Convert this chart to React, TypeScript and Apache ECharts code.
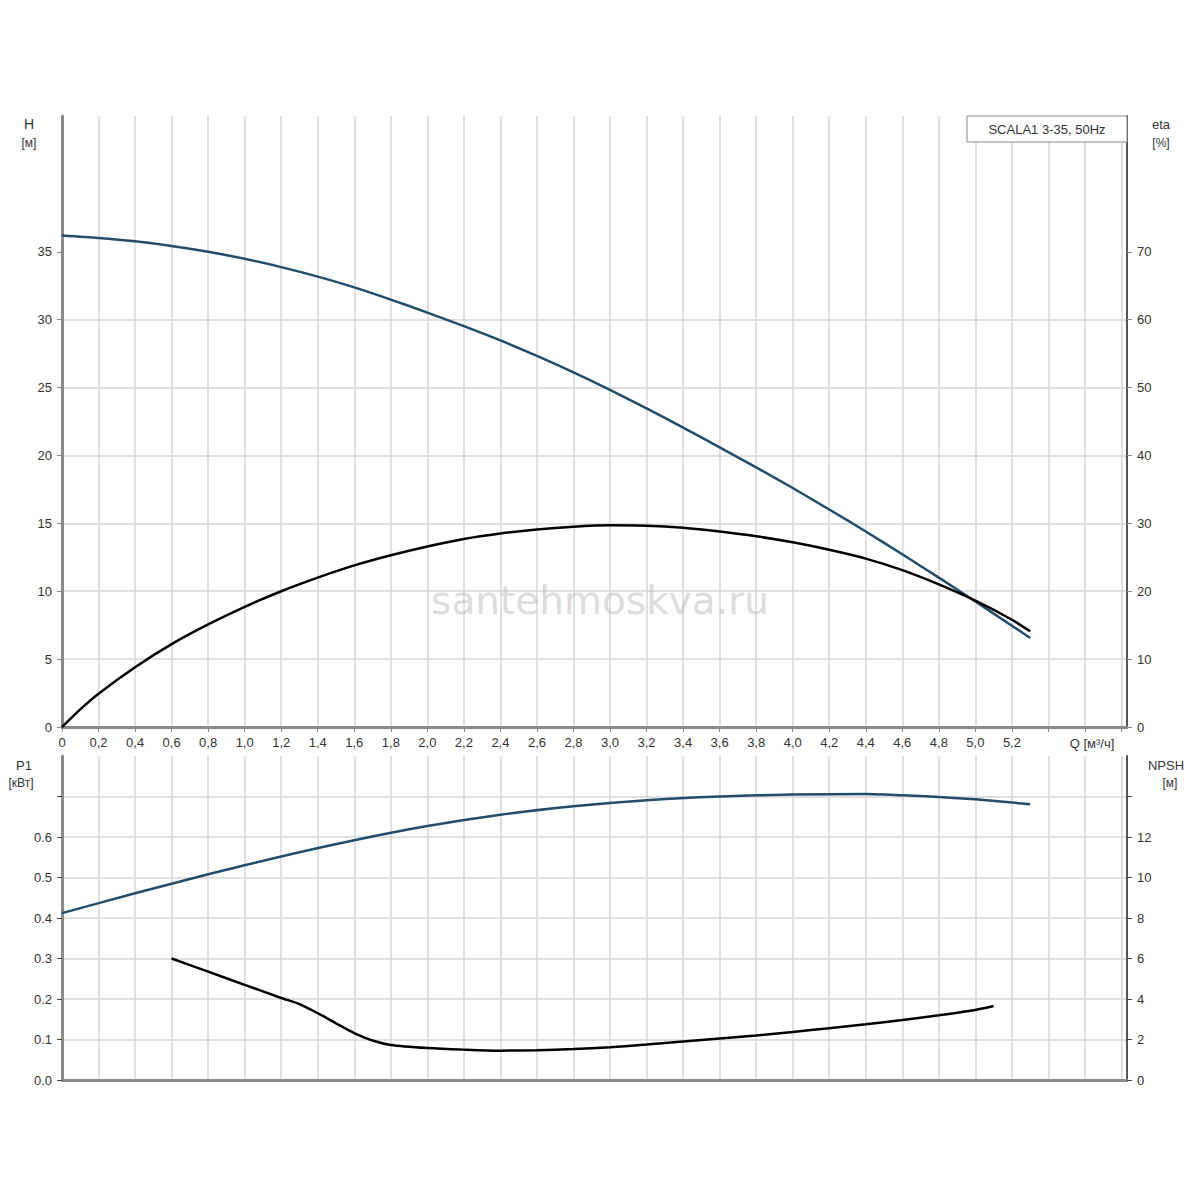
import React, { useEffect, useRef } from "react";
import * as echarts from "echarts";

// Flow Q [m³/h]
const qTop = [0, 0.2, 0.4, 0.6, 0.8, 1.0, 1.2, 1.4, 1.6, 1.8, 2.0, 2.2, 2.4, 2.6, 2.8, 3.0, 3.2, 3.4, 3.6, 3.8, 4.0, 4.2, 4.4, 4.6, 4.8, 5.0, 5.2, 5.3];
// Head H [m]
const headH = [36.2, 36.02, 35.77, 35.43, 35.0, 34.48, 33.87, 33.17, 32.38, 31.48, 30.52, 29.52, 28.47, 27.33, 26.12, 24.83, 23.47, 22.05, 20.6, 19.12, 17.6, 16.02, 14.4, 12.72, 11.0, 9.24, 7.46, 6.56];
// Efficiency eta [%]
const qEta = [0, 0.1, 0.2, 0.4, 0.6, 0.8, 1.0, 1.2, 1.4, 1.6, 1.8, 2.0, 2.2, 2.4, 2.6, 2.8, 3.0, 3.2, 3.4, 3.6, 3.8, 4.0, 4.2, 4.4, 4.6, 4.8, 5.0, 5.2, 5.3];
const etaPct = [0, 2.6, 4.9, 8.8, 12.2, 15.1, 17.7, 20.0, 22.0, 23.8, 25.3, 26.6, 27.7, 28.5, 29.1, 29.5, 29.7, 29.65, 29.35, 28.8, 28.1, 27.2, 26.1, 24.8, 23.1, 21.0, 18.6, 15.8, 14.1];

// Power P1 [kW]
const qP1 = [0, 0.4, 0.8, 1.2, 1.6, 2.0, 2.4, 2.8, 3.2, 3.6, 4.0, 4.4, 4.6, 4.8, 5.0, 5.3];
const powerP1 = [0.412, 0.461, 0.508, 0.552, 0.592, 0.627, 0.655, 0.676, 0.691, 0.7, 0.705, 0.706, 0.703, 0.699, 0.693, 0.681];

// NPSH [m]
const qNpsh = [0.6, 0.8, 1.0, 1.2, 1.3, 1.4, 1.5, 1.6, 1.7, 1.8, 2.0, 2.2, 2.4, 2.6, 2.8, 3.0, 3.2, 3.4, 3.6, 3.8, 4.0, 4.2, 4.4, 4.6, 4.8, 5.0, 5.1];
const npshM = [6.0, 5.35, 4.7, 4.05, 3.75, 3.3, 2.8, 2.32, 1.95, 1.73, 1.58, 1.5, 1.45, 1.47, 1.53, 1.62, 1.75, 1.9, 2.05, 2.2, 2.37, 2.56, 2.75, 2.96, 3.2, 3.46, 3.65];

// Tick labels
const hTicks = [0, 5, 10, 15, 20, 25, 30, 35];
const etaTicks = [0, 10, 20, 30, 40, 50, 60, 70];
const p1Ticks = [0, 0.1, 0.2, 0.3, 0.4, 0.5, 0.6];
const p1TickMarks = [0, 0.1, 0.2, 0.3, 0.4, 0.5, 0.6, 0.7];
const npshTicks = [0, 2, 4, 6, 8, 10, 12];
const npshTickMarks = [0, 2, 4, 6, 8, 10, 12, 14];

const title = "SCALA1 3-35, 50Hz";
const watermark = "santehmoskva.ru";

const FONT = "Liberation Sans, Arial, sans-serif";
const TXT = "#333";
const GRIDC = "#d6d6d6";
const AXC = "#8a8a8a";
const BLUE = "#214d6d";

const zip = (xs: number[], ys: number[]) => xs.map((x, i) => [x, ys[i]]);

export default function App() {
  const ref = useRef<HTMLDivElement>(null);
  useEffect(() => {
    document.body.style.margin = "0";
    const chart = echarts.init(ref.current!, null, { renderer: "svg" });
    const left = 62;
    const width = 1065;
    const fmtQ = (v: number) => {
      const r = Math.round(v * 10) / 10;
      if (r > 5.25) return "";
      if (r === 0) return "0";
      return r.toFixed(1).replace(".", ",");
    };
    const labelStyle = { color: TXT, fontSize: 13, fontFamily: FONT };
    const txt = (text: string, x: number, y: number, fontSize = 13) => ({
      type: "text", z: 11, silent: true,
      style: { text, x, y, align: "center", verticalAlign: "middle", fill: TXT, fontSize, fontFamily: FONT },
    });
    chart.setOption({
      animation: false,
      backgroundColor: "#fff",
      grid: [
        { left, top: 116, width, height: 611 },
        { left, top: 756, width, height: 324 },
      ],
      xAxis: [
        {
          type: "value", gridIndex: 0, min: 0, max: 5.83, interval: 0.2,
          axisLine: { show: true, lineStyle: { color: AXC, width: 3 } },
          axisTick: { show: true, length: 5, lineStyle: { color: AXC, width: 1 } },
          axisLabel: { ...labelStyle, margin: 9, formatter: fmtQ, showMaxLabel: false },
          splitLine: { show: true, lineStyle: { color: GRIDC, width: 1.5 }, showMinLine: false, showMaxLine: false },
        },
        {
          type: "value", gridIndex: 1, min: 0, max: 5.83, interval: 0.2,
          axisLine: { show: true, lineStyle: { color: AXC, width: 3 } },
          axisTick: { show: false },
          axisLabel: { show: false },
          splitLine: { show: true, lineStyle: { color: GRIDC, width: 1.5 }, showMinLine: false, showMaxLine: false },
        },
      ],
      yAxis: [
        {
          type: "value", gridIndex: 0, position: "left", min: 0, max: 45, interval: 5,
          axisLine: { show: true, lineStyle: { color: AXC, width: 3 } },
          axisTick: { show: true, length: 5, lineStyle: { color: AXC }, customValues: hTicks },
          axisLabel: { ...labelStyle, margin: 10, customValues: hTicks, formatter: (v: number) => (v > 35 ? "" : String(v)) },
          splitLine: { show: true, lineStyle: { color: GRIDC, width: 1.5 }, showMinLine: false, showMaxLine: false },
        },
        {
          type: "value", gridIndex: 0, position: "right", min: 0, max: 90, interval: 10,
          axisLine: { show: true, lineStyle: { color: "#555", width: 2 } },
          axisTick: { show: true, length: 5, lineStyle: { color: AXC }, customValues: etaTicks },
          axisLabel: { ...labelStyle, margin: 10, customValues: etaTicks, formatter: (v: number) => (v > 70 ? "" : String(v)) },
          splitLine: { show: false },
        },
        {
          type: "value", gridIndex: 1, position: "left", min: 0, max: 0.8, interval: 0.1,
          axisLine: { show: true, lineStyle: { color: AXC, width: 3 } },
          axisTick: { show: true, length: 5, lineStyle: { color: "#444" }, customValues: p1TickMarks },
          axisLabel: { ...labelStyle, margin: 10, customValues: p1Ticks, formatter: (v: number) => (v > 0.65 ? "" : v.toFixed(1)) },
          splitLine: { show: true, lineStyle: { color: GRIDC, width: 1.5 }, showMinLine: false },
        },
        {
          type: "value", gridIndex: 1, position: "right", min: 0, max: 16, interval: 2,
          axisLine: { show: true, lineStyle: { color: "#555", width: 2 } },
          axisTick: { show: true, length: 5, lineStyle: { color: "#444" }, customValues: npshTickMarks },
          axisLabel: { ...labelStyle, margin: 10, customValues: npshTicks, formatter: (v: number) => (v > 13 ? "" : String(v)) },
          splitLine: { show: false },
        },
      ],
      series: [
        {
          name: "H", type: "line", xAxisIndex: 0, yAxisIndex: 0, data: zip(qTop, headH),
          showSymbol: false, smooth: 0.25, lineStyle: { color: BLUE, width: 2.5 }, z: 3,
        },
        {
          name: "eta", type: "line", xAxisIndex: 0, yAxisIndex: 1, data: zip(qEta, etaPct),
          showSymbol: false, smooth: 0.25, lineStyle: { color: "#000", width: 2.5 }, z: 4,
        },
        {
          name: "P1", type: "line", xAxisIndex: 1, yAxisIndex: 2, data: zip(qP1, powerP1),
          showSymbol: false, smooth: 0.25, lineStyle: { color: BLUE, width: 2.5 }, z: 3,
        },
        {
          name: "NPSH", type: "line", xAxisIndex: 1, yAxisIndex: 3, data: zip(qNpsh, npshM),
          showSymbol: false, smooth: 0.25, lineStyle: { color: "#000", width: 2.5 }, z: 4,
        },
      ],
      graphic: [
        {
          type: "text", z: 1, silent: true,
          style: { text: watermark, x: 600, y: 600, align: "center", verticalAlign: "middle", fill: "rgba(190,190,190,0.55)", fontSize: 39, fontFamily: "DejaVu Sans, sans-serif" },
        },
        { type: "rect", z: 10, silent: true, shape: { x: 967, y: 116, width: 160, height: 26 }, style: { fill: "#fff", stroke: "#888", lineWidth: 1 } },
        txt(title, 1047, 129),
        txt("H", 29, 124, 14),
        txt("[м]", 29, 143, 12),
        txt("eta", 1161, 124),
        txt("[%]", 1161, 143, 12),
        txt("Q [м³/ч]", 1092, 743),
        txt("P1", 24, 765),
        txt("[кВт]", 21, 783, 12),
        txt("NPSH", 1166, 765),
        txt("[м]", 1170, 783, 12),
      ],
    });
    return () => chart.dispose();
  }, []);
  return <div ref={ref} style={{ width: 1200, height: 1200 }} />;
}
